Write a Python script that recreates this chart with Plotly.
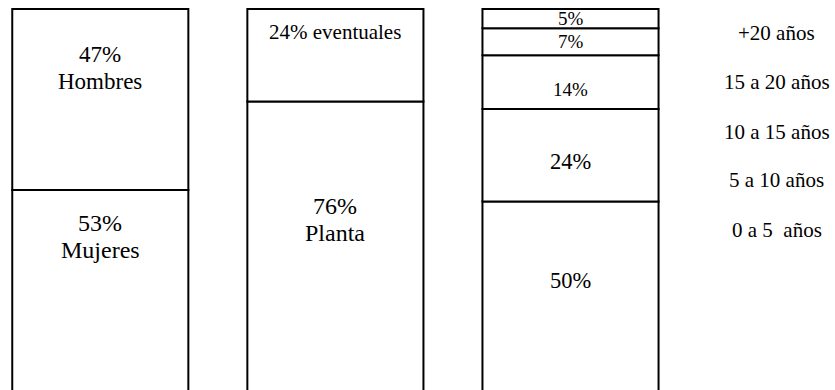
import numpy as np
import plotly.graph_objects as go

# Three 100% columns: sex, contract type, seniority (bottom segment first)
column_x = [0, 1, 2]

sexo_values = [53, 47]
sexo_labels = ["Mujeres", "Hombres"]

contrato_values = [76, 24]
contrato_labels = ["Planta", "eventuales"]

antig_values = [50, 24, 14, 7, 5]
antig_labels = ["0 a 5\u00a0\u00a0años", "5 a 10 años", "10 a 15 años", "15 a 20 años", "+20 años"]

columns = [sexo_values, contrato_values, antig_values]
names = [sexo_labels, contrato_labels, [None] * len(antig_values)]

# Label styling per segment: "stack" puts the name under the value, "inline" beside it
label_mode = [["stack", "stack"], ["stack", "inline"], ["value"] * 5]
label_y = [[41.0, 84.7], [45.2, 94.0], [29.6, 60.5, 79.0, 91.5, 97.5]]
label_size = [[24, 23], [24, 21], [22.5, 22.5, 19, 19, 19]]
LINE_GAP = 27  # px between value line and name line

# Seniority key on the right (paper coordinates), bottom class first
key_x = 0.9305
key_y = [1 - 230 / 390, 1 - 180 / 390, 1 - 132 / 390, 1 - 82 / 390, 1 - 33 / 390]
KEY_SIZE = 21

FAMILY = "Liberation Serif"


def font(size):
    return dict(family=FAMILY, size=size, color="black")


fig = go.Figure()
for xi, vals in zip(column_x, columns):
    vals = np.array(vals, dtype=float)
    bases = np.concatenate([[0.0], np.cumsum(vals)[:-1]])
    fig.add_trace(go.Bar(
        x=[xi] * len(vals), y=vals, base=bases, width=0.749,
        marker=dict(color="white", line=dict(color="black", width=2)),
        hoverinfo="skip", showlegend=False,
    ))

annotations = []
common = dict(xref="x", yref="y", showarrow=False, xanchor="center", yanchor="middle")
for xi, vals, nms, modes, ys, sizes in zip(column_x, columns, names, label_mode, label_y, label_size):
    for v, nm, mode, yy, sz in zip(vals, nms, modes, ys, sizes):
        if mode == "stack":
            annotations.append(dict(x=xi, y=yy, text=f"{v}%", yshift=LINE_GAP / 2,
                                    font=font(sz), **common))
            annotations.append(dict(x=xi, y=yy, text=nm, yshift=-LINE_GAP / 2,
                                    font=font(sz), **common))
        elif mode == "inline":
            annotations.append(dict(x=xi, y=yy, text=f"{v}% {nm}", font=font(sz), **common))
        else:
            annotations.append(dict(x=xi, y=yy, text=f"{v}%", font=font(sz), **common))

for lab, ky in zip(antig_labels, key_y):
    annotations.append(dict(x=key_x, y=ky, xref="paper", yref="paper", text=lab,
                            showarrow=False, font=font(KEY_SIZE),
                            xanchor="center", yanchor="middle"))

fig.update_layout(
    width=835, height=390,
    margin=dict(l=0, r=0, t=0, b=0),
    paper_bgcolor="white", plot_bgcolor="white",
    barmode="overlay",
    xaxis=dict(range=[-0.4266, 3.125], visible=False),
    yaxis=dict(range=[1.04, 102.34], visible=False),
    annotations=annotations,
)

fig.write_html("out.html")
